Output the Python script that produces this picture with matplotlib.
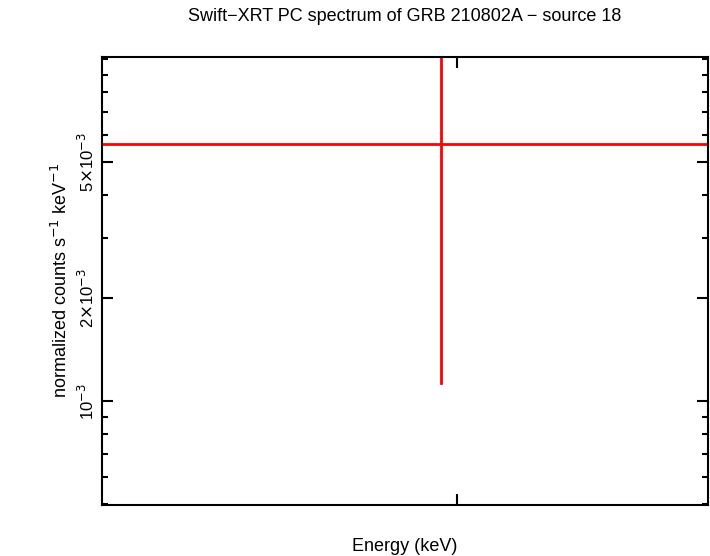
import numpy as np
from matplotlib import pyplot as plt
from matplotlib.ticker import FixedLocator, LogLocator, NullFormatter

plt.rcParams['font.family'] = 'Liberation Sans'

# spectrum data (one bin)
energy = [0.559]
energy_lo = [0.0]
energy_hi = [1.0]
rate = [5.64e-3]
rate_lo = [1.13e-3]
rate_hi = [1.2e-2]

ytick_vals = [1e-3, 2e-3, 5e-3]
ytick_labels = [r'10$^{-3}$', r'2$\times$10$^{-3}$', r'5$\times$10$^{-3}$']

fig = plt.figure(figsize=(7.10, 5.56), dpi=100)
ax = fig.add_axes([102/710, 1-505/556, 606/710, 448/556])

for e, elo, ehi, r, rlo, rhi in zip(energy, energy_lo, energy_hi, rate, rate_lo, rate_hi):
    ax.plot([elo, ehi], [r, r], color='red', lw=2)
    ax.plot([e, e], [rlo, rhi], color='red', lw=2)

ax.set_yscale('log')
ax.set_xlim(0, 1)
ax.set_ylim(4.97e-4, 1.014e-2)
ax.yaxis.set_major_locator(FixedLocator(ytick_vals))
ax.set_yticklabels(ytick_labels, rotation=90, va='center', fontsize=12)
ax.yaxis.set_minor_locator(LogLocator(subs=np.arange(1, 10)))
ax.yaxis.set_minor_formatter(NullFormatter())
ax.set_xticks([0.586])
ax.set_xticklabels([''])
ax.tick_params(which='both', direction='in', top=True, right=True, width=1.5)
ax.tick_params(which='major', length=8)
ax.tick_params(which='minor', length=4)
for s in ax.spines.values():
    s.set_linewidth(1.5)

ax.set_xlabel('Energy (keV)', fontsize=13, labelpad=20)
ax.set_ylabel(r'normalized counts s$^{-1}$ keV$^{-1}$', fontsize=13)
fig.suptitle('Swift\u2212XRT PC spectrum of GRB 210802A \u2212 source 18', fontsize=13,
             x=405/710, y=0.985)

fig.savefig('out.png', dpi=100)
